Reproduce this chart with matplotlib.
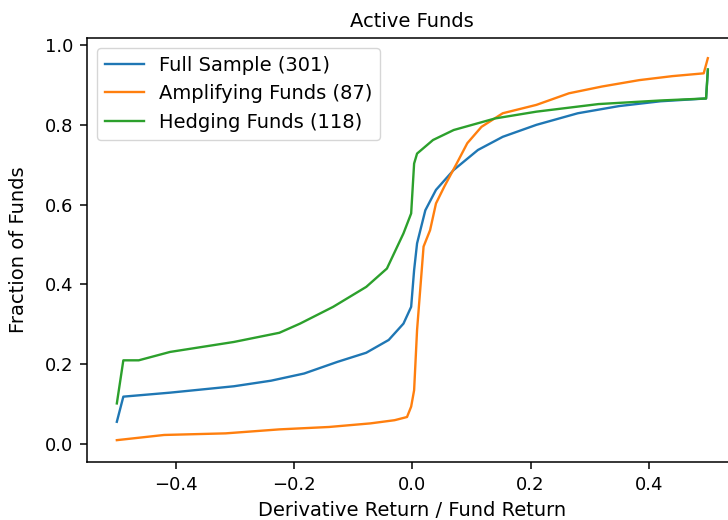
import numpy as np
import matplotlib.pyplot as plt

# Empirical distributions of derivative return relative to fund return
full_x = [-0.50, -0.489, -0.41, -0.302, -0.239, -0.183, -0.127, -0.078, -0.04, -0.015,
          -0.002, 0.003, 0.008, 0.022, 0.04, 0.07, 0.111, 0.153, 0.21, 0.28, 0.35, 0.42,
          0.497, 0.50]
full_y = [0.056, 0.119, 0.129, 0.145, 0.159, 0.177, 0.206, 0.229, 0.261, 0.302,
          0.344, 0.436, 0.503, 0.586, 0.637, 0.687, 0.737, 0.770, 0.800, 0.829, 0.847, 0.859,
          0.866, 0.935]

amp_x = [-0.50, -0.42, -0.316, -0.225, -0.141, -0.071, -0.03, -0.009, -0.002, 0.003,
         0.008, 0.019, 0.03, 0.04, 0.054, 0.075, 0.093, 0.117, 0.153, 0.21, 0.265, 0.321,
         0.384, 0.44, 0.493, 0.50]
amp_y = [0.010, 0.023, 0.027, 0.037, 0.043, 0.052, 0.060, 0.068, 0.094, 0.135,
         0.286, 0.495, 0.536, 0.603, 0.645, 0.703, 0.754, 0.795, 0.829, 0.850, 0.879, 0.896,
         0.912, 0.922, 0.929, 0.967]

hedge_x = [-0.50, -0.489, -0.463, -0.41, -0.302, -0.225, -0.19, -0.134, -0.078, -0.043,
           -0.015, -0.002, 0.003, 0.008, 0.035, 0.07, 0.14, 0.21, 0.315, 0.42, 0.497, 0.50]
hedge_y = [0.102, 0.210, 0.210, 0.231, 0.256, 0.279, 0.302, 0.344, 0.394, 0.440,
           0.528, 0.578, 0.703, 0.728, 0.762, 0.787, 0.816, 0.833, 0.852, 0.861, 0.866, 0.939]

labels = ['Full Sample (301)', 'Amplifying Funds (87)', 'Hedging Funds (118)']

plt.rcParams['axes.linewidth'] = 1.1

fig = plt.figure(figsize=(7.28, 5.2), dpi=100)
ax = fig.add_axes([0.1199, 0.1121, 0.893, 0.8148])

ax.plot(full_x, full_y, label=labels[0], linewidth=1.7)
ax.plot(amp_x, amp_y, label=labels[1], linewidth=1.7)
ax.plot(hedge_x, hedge_y, label=labels[2], linewidth=1.7)

ax.set_xlim(-0.55, 0.55)
ax.set_ylim(-0.044, 1.0175)
ax.set_xticks([-0.4, -0.2, 0.0, 0.2, 0.4])
ax.set_yticks([0.0, 0.2, 0.4, 0.6, 0.8, 1.0])
ax.tick_params(labelsize=13, length=5, width=1.1, pad=5)
ax.set_xlabel('Derivative Return / Fund Return', fontsize=14, labelpad=5)
ax.set_ylabel('Fraction of Funds', fontsize=14, labelpad=12)
ax.set_title('Active Funds', fontsize=14, pad=8)
ax.legend(loc='upper left', fontsize=14)

fig.savefig('out.png', dpi=100)
